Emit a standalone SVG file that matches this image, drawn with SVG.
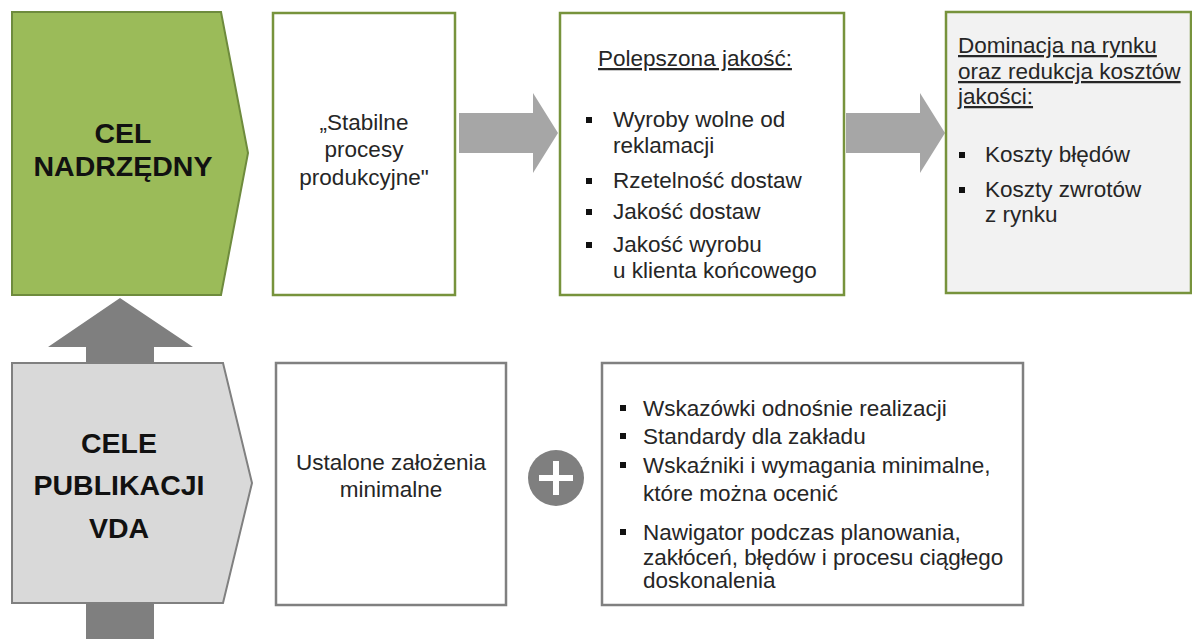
<svg xmlns="http://www.w3.org/2000/svg" width="1192" height="639" viewBox="0 0 1192 639">
<style>
.t{font-family:"Liberation Sans",Arial,sans-serif;font-size:22.5px;fill:#262626}
.b{font-family:"Liberation Sans",Arial,sans-serif;font-size:28.5px;font-weight:bold;fill:#111;text-anchor:middle}
.c{text-anchor:middle}
.u{text-decoration:underline}
.gb{fill:#fff;stroke:#77933C;stroke-width:2.5}
.kb{fill:#fff;stroke:#808080;stroke-width:2.5}
.bl{fill:#111}
</style>
<rect width="1192" height="639" fill="#fff"/>
<g id="connectors">
<polygon points="120,298 193,347 154,347 154,370 86,370 86,347 48,347" fill="#7F7F7F"/>
<rect x="86" y="598" width="68" height="41" fill="#7F7F7F"/>
<polygon points="459,113 533,113 533,93 558,133 533,173 533,153 459,153" fill="#A6A6A6"/>
<polygon points="846,113 920,113 920,93 945,133 920,173 920,153 846,153" fill="#A6A6A6"/>
</g>
<g id="cel-nadrzedny">
<polygon points="12,12 221,12 248,153 221,295 12,295" fill="#9BBB59" stroke="#6E8B3D" stroke-width="2"/>
<text class="b" x="123" y="143">CEL</text>
<text class="b" x="123" y="176">NADRZĘDNY</text>
</g>
<g id="cele-publikacji">
<polygon points="12,363 223,363 252,483 223,603 12,603" fill="#D9D9D9" stroke="#808080" stroke-width="2"/>
<text class="b" x="119" y="453">CELE</text>
<text class="b" x="119" y="495">PUBLIKACJI</text>
<text class="b" x="119" y="538">VDA</text>
</g>
<g id="stabilne">
<rect class="gb" x="273" y="13" width="182" height="282"/>
<text class="t c" x="364" y="130">„Stabilne</text>
<text class="t c" x="364" y="157">procesy</text>
<text class="t c" x="364" y="185">produkcyjne"</text>
</g>
<g id="polepszona">
<rect class="gb" x="560" y="13" width="284" height="282"/>
<text class="t c u" x="695" y="66">Polepszona jakość:</text>
<rect class="bl" x="586" y="117" width="6" height="6"/>
<text class="t" x="613" y="127">Wyroby wolne od</text>
<text class="t" x="613" y="153">reklamacji</text>
<rect class="bl" x="586" y="178" width="6" height="6"/>
<text class="t" x="613" y="188">Rzetelność dostaw</text>
<rect class="bl" x="586" y="209" width="6" height="6"/>
<text class="t" x="613" y="219">Jakość dostaw</text>
<rect class="bl" x="586" y="242" width="6" height="6"/>
<text class="t" x="613" y="252">Jakość wyrobu</text>
<text class="t" x="613" y="278">u klienta końcowego</text>
</g>
<g id="dominacja">
<rect x="946" y="12" width="245" height="281" fill="#F2F2F2" stroke="#77933C" stroke-width="2.5"/>
<text class="t u" x="958" y="53">Dominacja na rynku</text>
<text class="t u" x="958" y="79">oraz redukcja kosztów</text>
<text class="t u" x="958" y="104">jakości:</text>
<rect class="bl" x="959" y="152" width="6" height="6"/>
<text class="t" x="985" y="162">Koszty błędów</text>
<rect class="bl" x="959" y="187" width="6" height="6"/>
<text class="t" x="985" y="197">Koszty zwrotów</text>
<text class="t" x="985" y="222">z rynku</text>
</g>
<g id="ustalone">
<rect class="kb" x="276" y="363" width="230" height="242"/>
<text class="t c" x="391" y="470">Ustalone założenia</text>
<text class="t c" x="391" y="497">minimalne</text>
</g>
<g id="plus">
<circle cx="556" cy="478" r="28" fill="#7F7F7F"/>
<rect x="553" y="461" width="6" height="34" fill="#fff"/>
<rect x="539" y="475" width="34" height="6" fill="#fff"/>
</g>
<g id="wskazowki">
<rect class="kb" x="602" y="363" width="421" height="242"/>
<rect class="bl" x="620" y="405" width="6" height="6"/>
<text class="t" x="643" y="416">Wskazówki odnośnie realizacji</text>
<rect class="bl" x="620" y="433" width="6" height="6"/>
<text class="t" x="643" y="444">Standardy dla zakładu</text>
<rect class="bl" x="620" y="462" width="6" height="6"/>
<text class="t" x="643" y="473">Wskaźniki i wymagania minimalne,</text>
<text class="t" x="643" y="501">które można ocenić</text>
<rect class="bl" x="620" y="529" width="6" height="6"/>
<text class="t" x="643" y="540">Nawigator podczas planowania,</text>
<text class="t" x="643" y="565">zakłóceń, błędów i procesu ciągłego</text>
<text class="t" x="643" y="588">doskonalenia</text>
</g>
</svg>
